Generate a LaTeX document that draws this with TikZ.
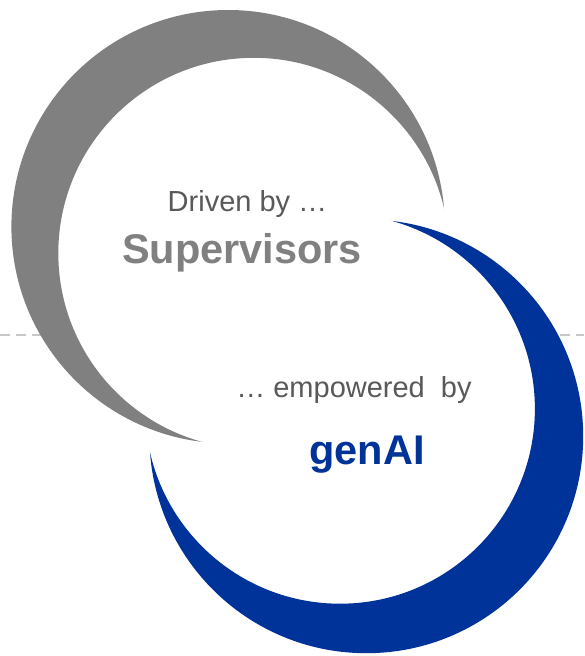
\documentclass[tikz,border=0pt]{standalone}
\usepackage{fontspec}
\setmainfont{Liberation Sans}
\definecolor{moongray}{HTML}{808080}
\definecolor{moonblue}{HTML}{003399}
\definecolor{labelgray}{HTML}{595959}
\definecolor{dashgray}{HTML}{C8C8C8}

\begin{document}
\begin{tikzpicture}[x=1pt,y=-1pt,
    small/.style={text=labelgray,anchor=base,font=\fontsize{29}{33}\selectfont},
    big/.style={anchor=base,font=\bfseries\fontsize{41.5}{46}\selectfont}]
   \useasboundingbox (0,0) rectangle (584,656);
   \coordinate (left) at (0,335);
   \coordinate (right) at (584,335);
   \draw[dashgray,line width=1.5pt,dash pattern=on 10pt off 6pt] (left) -- (right);
   % white inside of both moons
   \fill[white] (253.8,253.3) circle (195.5);
   \fill[white] (340,408.8) circle (194.9);
   \begin{scope}[even odd rule]
      \clip (-50,-50) rectangle (650,720) (253.8,253.3) circle (195.5);
      \fill[moongray] (228.1,226.7) circle (216.7);
   \end{scope}
   \begin{scope}[even odd rule]
      \clip (-50,-50) rectangle (650,720) (340,408.8) circle (194.9);
      \fill[moonblue] (366.3,436.3) circle (216.9);
   \end{scope}
   \node[small] (driven) at (247.5,211) {Driven by …};
   \node[big,text=moongray] (supervisors) at (242,263) {Supervisors};
   % \node[small] (driven) [above=of supervisors] {Driven by …};
   \node[small] (empowered) at (354,397) {… empowered\ \ by};
   \node[big,text=moonblue] (genai) at (367,464) {genAI};
\end{tikzpicture}
\end{document}
